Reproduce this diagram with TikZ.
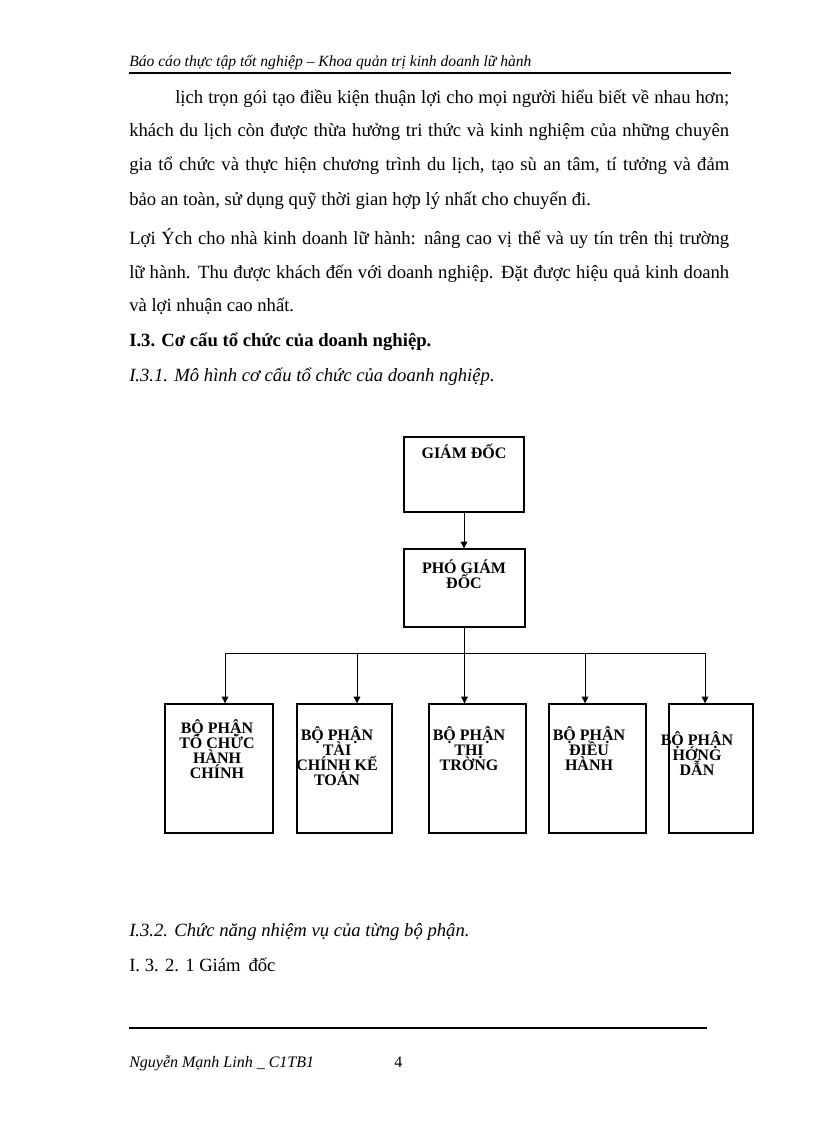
\documentclass[tikz,border=0pt]{standalone}
\usepackage{fontspec}
\setmainfont{Liberation Serif}
\usetikzlibrary{arrows.meta,positioning,calc}
\newcommand\tightlines{\lineskiplimit-100pt\relax}

\begin{document}
\begin{tikzpicture}[x=0.75pt,y=-0.75pt,>={Triangle[length=5pt,width=5pt]},
  txt/.style={anchor=base west,inner sep=0pt,font=\fontsize{14}{17}\selectfont},
  hd/.style={anchor=base west,inner sep=0pt,font=\itshape\fontsize{11.7}{14}\selectfont},
  box/.style={draw=black,line width=1pt,inner sep=0pt},
  boxtxt/.style={anchor=base,inner sep=0pt,align=center,
    font=\bfseries\fontsize{12}{11.25}\selectfont\tightlines},
  conn/.style={draw=black,line width=0.75pt}]
\path[use as bounding box,fill=white] (0,0) rectangle (816,1123);
% page header
\node[hd] (head) at (129,67) {Báo cáo thực tập tốt nghiệp -- Khoa quản trị kinh doanh lữ hành};
\coordinate (hl) at (129,73);
\coordinate (hr) at (731,73);
\draw[line width=1.1pt] (hl) -- (hr);
% body text
\node[txt] (p1a) at (175,104) {\makebox[415.5pt][s]{lịch trọn gói tạo điều kiện thuận lợi cho mọi người hiểu biết về nhau hơn;}};
\node[txt] (p1b) at (129,137) {\makebox[450pt][s]{khách du lịch còn được thừa hưởng tri thức và kinh nghiệm của những chuyên}};
\node[txt] (p1c) at (129,171) {\makebox[450pt][s]{gia tổ chức và thực hiện chương trình du lịch, tạo sù an tâm, tí tưởng và đảm}};
\node[txt] (p1d) at (129,205) {bảo an toàn, sử dụng quỹ thời gian hợp lý nhất cho chuyến đi.};
\node[txt] (p2a) at (129,244) {\makebox[450pt][s]{Lợi Ých cho nhà kinh doanh lữ hành: nâng cao vị thế và uy tín trên thị trường}};
\node[txt] (p2b) at (129,278) {\makebox[450pt][s]{lữ hành. Thu được khách đến với doanh nghiệp. Đặt được hiệu quả kinh doanh}};
\node[txt] (p2c) at (129,311) {và lợi nhuận cao nhất.};
\node[txt,font=\bfseries\fontsize{14}{17}\selectfont] (sec) at (129,346) {I.3. Cơ cấu tổ chức của doanh nghiệp.};
\node[txt,font=\itshape\fontsize{14}{17}\selectfont] (sub1) at (129,381) {I.3.1. Mô hình cơ cấu tổ chức của doanh nghiệp.};
% org chart
\node[box,minimum width=90pt,minimum height=56.25pt] (gd) at (464,474.5) {};
\node[boxtxt] (gdt) at (464,458) {GIÁM ĐỐC};
\node[box,minimum width=90.75pt,minimum height=58.5pt] (pgd) at (464.5,588) {};
\node[boxtxt] (pgdt) at (464,588) {PHÓ GIÁM\\ĐỐC};
\node[box,minimum width=81pt,minimum height=96.75pt] (b1) at (219,768.5) {};
\node[box,minimum width=71.25pt,minimum height=96.75pt] (b2) at (344.5,768.5) {};
\node[box,minimum width=72.75pt,minimum height=96.75pt] (b3) at (477.5,768.5) {};
\node[box,minimum width=72.75pt,minimum height=96.75pt] (b4) at (597.5,768.5) {};
\node[box,minimum width=63pt,minimum height=96.75pt] (b5) at (711,768.5) {};
\node[boxtxt] (b1t) at (217,778) {BỘ PHẬN\\TỔ CHỨC\\HÀNH\\CHÍNH};
\node[boxtxt] (b2t) at (337,785) {BỘ PHẬN\\TÀI\\CHÍNH KẾ\\TOÁN};
\node[boxtxt] (b3t) at (469,770) {BỘ PHẬN\\THỊ\\TRỜNG};
\node[boxtxt] (b4t) at (589,770) {BỘ PHẬN\\ĐIỀU\\HÀNH};
\node[boxtxt] (b5t) at (697,775) {BỘ PHẬN\\HỚNG\\DẪN};
\coordinate (bl) at (225,653);
\coordinate (j2) at (357,653);
\coordinate (j4) at (585,653);
\coordinate (br) at (705,653);
\draw[conn,->] (gd.south) -- (pgd.north -| gd.south);
\draw[conn,->] (pgd.south) -- (pgd.south |- b3.north);
\draw[conn] (bl) -- (br);
\draw[conn,->] (bl) -- (bl |- b1.north);
\draw[conn,->] (j2) -- (j2 |- b2.north);
\draw[conn,->] (j4) -- (j4 |- b4.north);
\draw[conn,->] (br) -- (br |- b5.north);
% text below the chart
\node[txt,font=\itshape\fontsize{14}{17}\selectfont] (sub2) at (129,936) {I.3.2. Chức năng nhiệm vụ của từng bộ phận.};
\node[txt] (sub21) at (129,971) {I. 3. 2. 1 Giám \,đốc};
% page footer
\coordinate (fl) at (129,1028);
\coordinate (fr) at (707,1028);
\draw[line width=0.8pt] (fl) -- (fr);
\node[hd,font=\itshape\fontsize{12}{14}\selectfont] (foot) at (129,1067) {Nguyễn Mạnh Linh \_ C1TB1};
\node[txt,font=\fontsize{12}{14}\selectfont] (pg) at (394,1067) {4};
\end{tikzpicture}
\end{document}
